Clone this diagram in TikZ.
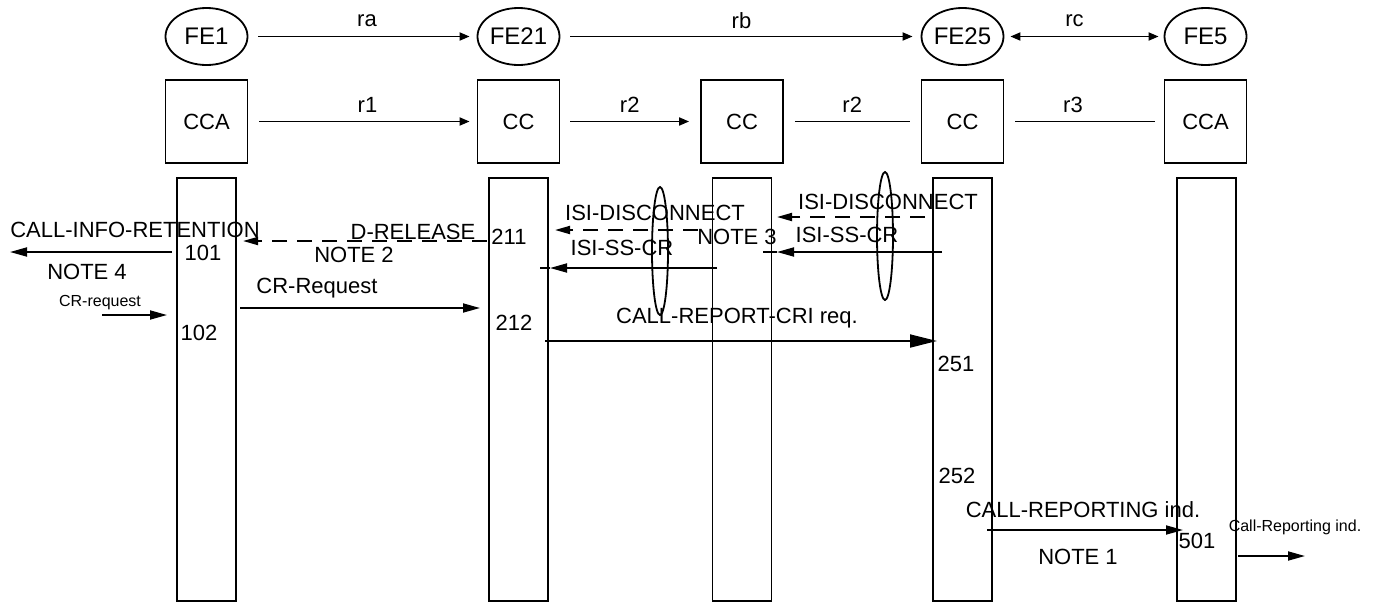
\documentclass[tikz,border=0pt]{standalone}
\usepackage{fontspec}
\setmainfont{Liberation Sans}
\usetikzlibrary{arrows.meta,shapes.geometric,calc}
\begin{document}
\begin{tikzpicture}[x=1pt,y=-1pt,
  big/.style={font=\fontsize{22}{24}\selectfont, inner sep=0pt},
  small/.style={font=\fontsize{16}{18}\selectfont, inner sep=0pt},
  fe/.style={draw, ellipse, line width=1.8pt, minimum width=82pt, minimum height=57pt, inner sep=0pt, font=\fontsize{24}{26}\selectfont},
  fbox/.style={draw, rectangle, line width=1.8pt, minimum width=82pt, minimum height=83pt, inner sep=0pt, font=\fontsize{22}{24}\selectfont},
  life/.style={draw, rectangle, line width=1.8pt, minimum width=59pt, minimum height=423pt, inner sep=0pt, anchor=north},
  oval/.style={draw, ellipse, line width=1.8pt, minimum width=16pt, minimum height=128pt, inner sep=0pt},
  top/.style={line width=1.8pt, -{Triangle[length=10pt,width=8pt]}},
  plain/.style={line width=1.8pt},
  msg/.style={line width=1.8pt, -{Triangle[length=17pt,width=9pt]}},
  bigmsg/.style={line width=1.8pt, -{Triangle[length=27pt,width=13pt]}},
  dmsg/.style={line width=1.8pt, dash pattern=on 15pt off 10pt, -{Triangle[length=15pt,width=8pt]}}
]
\useasboundingbox (0,0) rectangle (1377,603);

% functional entities
\node[fe] (fe1) at (206.5,36.5) {FE1};
\node[fe] (fe21) at (518.5,36.5) {FE21};
\node[fe] (fe25) at (962.5,36.5) {FE25};
\node[fe] (fe5) at (1205.5,36.5) {FE5};

\node[fbox] (b1) at (206.5,121.5) {CCA};
\node[fbox] (b2) at (518.5,121.5) {CC};
\node[fbox] (b3) at (742,121.5) {CC};
\node[fbox] (b4) at (962.5,121.5) {CC};
\node[fbox] (b5) at (1205.5,121.5) {CCA};

% relationships
\draw[top] ([xshift=10pt]fe1.east) -- ([xshift=-7pt]fe21.west) node[big, midway, yshift=16pt, xshift=3pt] (ra) {ra};
\draw[top] ([xshift=10pt]fe21.east) -- ([xshift=-8pt]fe25.west) node[big, midway, yshift=16pt] (rb) {rb};
\draw[line width=1.8pt, {Triangle[length=10pt,width=8pt]}-{Triangle[length=10pt,width=8pt]}] ([xshift=6pt]fe25.east) -- ([xshift=-5pt]fe5.west) node[big, midway, yshift=16pt, xshift=-10pt] (rc) {rc};

\draw[top] ([xshift=11pt]b1.east) -- ([xshift=-7pt]b2.west) node[big, midway, yshift=17pt, xshift=3pt] (r1) {r1};
\draw[top] ([xshift=10pt]b2.east) -- ([xshift=-11pt]b3.west) node[big, midway, yshift=17pt] (r2a) {r2};
\draw[plain] ([xshift=11pt]b3.east) -- ([xshift=-11pt]b4.west) node[big, midway, yshift=17pt] (r2b) {r2};
\draw[plain] ([xshift=11pt]b4.east) -- ([xshift=-9pt]b5.west) node[big, midway, yshift=17pt, xshift=-12pt] (r3) {r3};

% lifelines
\node[life] (l1) at (206.5,177) {};
\node[life] (l2) at (518.5,177) {};
\node[life] (l3) at (742,177) {};
\node[life] (l4) at (962.5,177) {};
\node[life] (l5) at (1206.5,177) {};

% end points
\coordinate (cirS) at (172,252);  \coordinate (cirE) at (10,252);
\coordinate (drS) at (487,241);   \coordinate (drE) at (243,241);
\coordinate (crS) at (240,308);   \coordinate (crE) at (480,308);
\coordinate (crqS) at (102,315);  \coordinate (crqE) at (167,315);
\coordinate (idlS) at (698,230);  \coordinate (idlE) at (555,230);
\coordinate (islS) at (717,268);  \coordinate (islE) at (550,268); \coordinate (islT) at (540,268);
\coordinate (idrS) at (925,217);  \coordinate (idrE) at (777,217);
\coordinate (isrS) at (942,252);  \coordinate (isrE) at (777,252); \coordinate (isrT) at (763,252);
\coordinate (crcS) at (545,341);  \coordinate (crcE) at (937,341);
\coordinate (crpS) at (987,530);  \coordinate (crpE) at (1183,530);
\coordinate (cpS) at (1238,556);  \coordinate (cpE) at (1305,556);

% messages
\draw[msg] (cirS) -- (cirE);
\draw[dmsg] (drS) -- (drE);
\draw[msg] (crS) -- (crE);
\draw[msg] (crqS) -- (crqE);
\draw[dmsg] (idlS) -- (idlE);
\draw[msg] (islS) -- (islE);
\draw[plain] (islE) -- (islT);
\draw[dmsg] (idrS) -- (idrE);
\draw[msg] (isrS) -- (isrE);
\draw[plain] (isrE) -- (isrT);
\draw[bigmsg] (crcS) -- (crcE);
\draw[msg] (crpS) -- (crpE);
\draw[msg] (cpS) -- (cpE);

% ovals
\node[oval] (ova) at (660,251) {};
\node[oval] (ovb) at (885,236) {};

% labels
\node[big] (tcir) at (135,230) {CALL-INFO-RETENTION};
\node[big] (t101) at (203,253) {101};
\node[big] (tn4) at (87,272) {NOTE 4};
\node[big] (tdr) at (413,232) {D-RELEASE};
\node[big] (tn2) at (354,255) {NOTE 2};
\node[big] (t211) at (509,237) {211};
\node[big] (tcr) at (317,288) {CR-Request};
\node[small] (tcrq) at (100,303) {CR-request};
\node[big] (t102) at (199,333) {102};
\node[big] (tidl) at (655,213) {ISI-DISCONNECT};
\node[big] (tisl) at (622,248) {ISI-SS-CR};
\node[big] (tn3) at (737,237) {NOTE 3};
\node[big] (tidr) at (888,202) {ISI-DISCONNECT};
\node[big] (tisr) at (847,235) {ISI-SS-CR};
\node[big] (tcrc) at (737,318) {CALL-REPORT-CRI req.};
\node[big] (t212) at (514,323) {212};
\node[big] (t251) at (956,364) {251};
\node[big] (t252) at (957,476) {252};
\node[big] (tcrp) at (1083,510) {CALL-REPORTING ind.};
\node[big] (t501) at (1197,541) {501};
\node[big] (tn1) at (1078,557) {NOTE 1};
\node[small] (tcp) at (1295,527) {Call-Reporting ind.};
\end{tikzpicture}
\end{document}
